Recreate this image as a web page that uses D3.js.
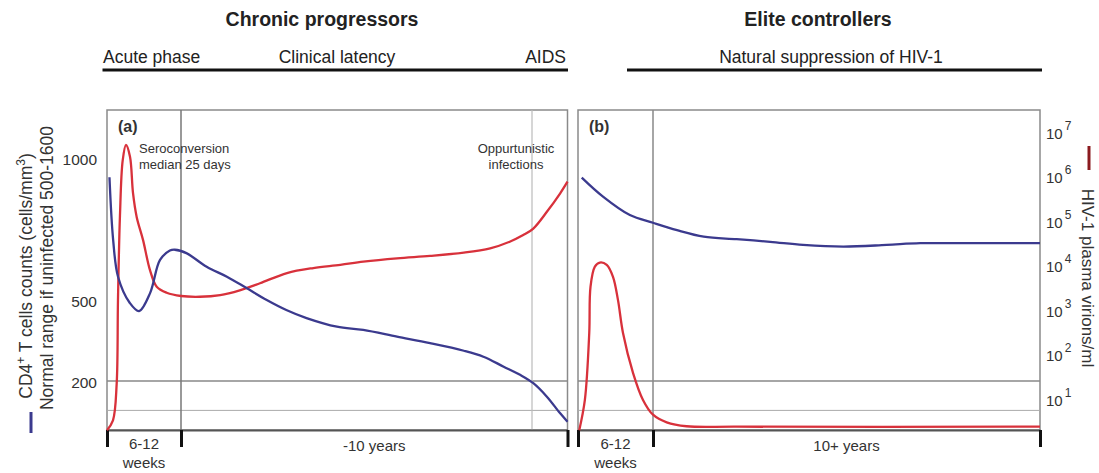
<!DOCTYPE html>
<html>
<head>
<meta charset="utf-8">
<script src="https://cdn.jsdelivr.net/npm/d3@7"></script>
<style>
  body { margin: 0; background: #fff; }
  svg { font-family: "Liberation Sans", Arial, sans-serif; }
</style>
</head>
<body>
<div id="chart"></div>
<script>
// time is in weeks after infection; the axis is schematic (piecewise)
const phaseWeeksA = [0, 12, 532, 600];
const phaseWeeksB = [0, 12, 600];

// (a) chronic progressors
const cd4WeeksA = [0.4, 1.0, 1.8, 3.7, 5.2, 7.0, 8.6, 10.2, 11.0, 20, 50, 80, 109, 139, 168, 198, 243, 282, 332, 381, 431, 460, 490, 515, 534.5, 560.5, 586, 600];
const cd4A = [932, 711, 581, 489, 459, 525, 641, 674, 677, 665, 617, 582, 542, 500, 463, 433, 401, 389, 364, 340, 312, 290, 253, 222, 191, 136, 68, 34];
const virWeeksA = [0, 0.97, 1.57, 1.78, 2.1, 2.55, 3.08, 3.73, 4.22, 4.82, 5.84, 6.97, 8.06, 9.68, 12.1, 40, 70, 99, 129, 169, 208, 248, 282, 332, 381, 431, 470, 499, 519, 534.5, 560.5, 586, 600];
const virA = [1.8, 3, 20, 1500, 117000, 2.1e6, 4.6e6, 2.5e6, 3.8e5, 1.1e5, 3.4e4, 7100, 3000, 2200, 1860, 1790, 1950, 2500, 3600, 6100, 7900, 9300, 11000, 13100, 14800, 17500, 21900, 30900, 43500, 61000, 145000, 378000, 690000];

// (b) elite controllers
const cd4WeeksB = [0.6, 4.0, 8.3, 12, 48.5, 89, 139, 190, 240, 301, 367, 418, 494, 600];
const cd4B = [931, 864, 799, 772, 746, 723, 714, 705, 694, 688, 694, 700, 700, 700];
const virWeeksB = [0.2, 1.1, 1.8, 2.0, 2.7, 3.5, 4.6, 5.6, 6.4, 7.2, 8.8, 10.4, 12, 32.8, 63, 139, 600];
const virB = [1.8, 8.6, 275, 3000, 8500, 10500, 9300, 5000, 1500, 275, 35, 8.6, 4, 2.7, 2.2, 2.15, 2.15];

const cd4Ticks = [200, 500, 1000];
const virTicks = [1e1, 1e2, 1e3, 1e4, 1e5, 1e6, 1e7];
const refCd4Lines = [200, 80];

const BLUE = '#3b3a8e';
const RED = '#d8313b';
const FRAME = '#8a8a8a';

const width = 1099, height = 473;
const svg = d3.select('#chart').append('svg')
  .attr('width', width).attr('height', height);

const TOP = 110, BOTTOM = 430;

const yCd4 = d3.scaleLinear().domain([0, 200, 500, 1000]).range([BOTTOM, 381, 300, 158]);
const yVir = d3.scaleLog().domain([10, 1e7]).range([397, 130]);
const xA = d3.scaleLinear().domain(phaseWeeksA).range([107, 181, 532, 567.5]);
const xB = d3.scaleLinear().domain(phaseWeeksB).range([578, 653, 1040]);

const panels = [
  {x: xA, label: '(a)', cd4W: cd4WeeksA, cd4: cd4A, virW: virWeeksA, vir: virA,
   vlines: [[12, '#777', 1.5], [532, '#bbb', 1.2]], ticks: [0, 12, 600]},
  {x: xB, label: '(b)', cd4W: cd4WeeksB, cd4: cd4B, virW: virWeeksB, vir: virB,
   vlines: [[12, '#888', 1.5]], ticks: [0, 12, 600]}
];

const smooth = d3.curveCatmullRom.alpha(0.5);

panels.forEach(p => {
  const [x0, x1] = [p.x.range()[0], p.x.range()[p.x.range().length - 1]];
  const g = svg.append('g');

  // frame
  g.append('rect')
    .attr('x', x0).attr('y', TOP)
    .attr('width', x1 - x0).attr('height', BOTTOM - TOP)
    .attr('fill', 'none').attr('stroke', FRAME).attr('stroke-width', 1.5);

  // reference lines
  refCd4Lines.forEach((v, i) => {
    g.append('line')
      .attr('x1', x0).attr('x2', x1)
      .attr('y1', yCd4(v)).attr('y2', yCd4(v))
      .attr('stroke', i === 0 ? '#888' : '#aaa')
      .attr('stroke-width', i === 0 ? 1.5 : 1);
  });
  p.vlines.forEach(([w, c, sw]) => {
    g.append('line')
      .attr('x1', p.x(w)).attr('x2', p.x(w))
      .attr('y1', TOP).attr('y2', BOTTOM)
      .attr('stroke', c).attr('stroke-width', sw);
  });

  // bottom axis with heavy tick marks
  const ax = g.append('g')
    .attr('transform', `translate(0,${BOTTOM})`)
    .call(d3.axisBottom(p.x).tickValues(p.ticks).tickSize(17).tickSizeOuter(0).tickFormat(''));
  ax.select('.domain').attr('stroke', '#555').attr('stroke-width', 2);
  ax.selectAll('.tick line').attr('stroke', '#111').attr('stroke-width', 3);

  // curves
  const lineCd4 = d3.line()
    .x(d => p.x(d[0])).y(d => yCd4(d[1]))
    .curve(smooth);
  const lineVir = d3.line()
    .x(d => p.x(d[0])).y(d => yVir(d[1]))
    .curve(smooth);

  g.append('path')
    .datum(d3.zip(p.virW, p.vir))
    .attr('d', lineVir)
    .attr('fill', 'none').attr('stroke', RED).attr('stroke-width', 2.3);
  g.append('path')
    .datum(d3.zip(p.cd4W, p.cd4))
    .attr('d', lineCd4)
    .attr('fill', 'none').attr('stroke', BLUE).attr('stroke-width', 2.3);

  g.append('text')
    .attr('x', x0 + 11).attr('y', 132)
    .attr('font-size', 16).attr('font-weight', 'bold').attr('fill', '#333')
    .text(p.label);

  // bottom labels
  const mid1 = (p.x(0) + p.x(12)) / 2;
  const mid2 = (p.x(12) + p.x(600)) / 2;
  g.append('text').attr('x', mid1).attr('y', 449)
    .attr('text-anchor', 'middle').attr('font-size', 15).attr('fill', '#333').text('6-12');
  g.append('text').attr('x', mid1).attr('y', 468)
    .attr('text-anchor', 'middle').attr('font-size', 15).attr('fill', '#333').text('weeks');
  g.append('text').attr('x', mid2).attr('y', 451)
    .attr('text-anchor', 'middle').attr('font-size', 15).attr('fill', '#333')
    .text(p.label === '(a)' ? '-10 years' : '10+ years');
});

// annotations in (a)
const note = (x, y, s, anchor) => svg.append('text')
  .attr('x', x).attr('y', y).attr('font-size', 13).attr('fill', '#333')
  .attr('text-anchor', anchor).text(s);
note(139, 153, 'Seroconversion', 'start');
note(139, 169, 'median 25 days', 'start');
note(516, 153, 'Oppurtunistic', 'middle');
note(516, 169, 'infections', 'middle');

// left axis (CD4 count)
const la = svg.append('g').attr('transform', 'translate(97,0)')
  .call(d3.axisLeft(yCd4).tickValues(cd4Ticks).tickSize(0).tickPadding(0).tickFormat(d3.format('d')));
la.select('.domain').remove();
la.selectAll('text').attr('font-size', 15.5).attr('fill', '#333')
  .attr('font-family', '"Liberation Sans", Arial, sans-serif').attr('dy', '0.45em');

// right axis (viral load, log)
const ra = svg.append('g').attr('transform', 'translate(1046,0)')
  .call(d3.axisRight(yVir).tickValues(virTicks).tickSize(0).tickPadding(0).tickFormat(''));
ra.select('.domain').remove();
ra.selectAll('.tick text')
  .attr('font-size', 15).attr('fill', '#333').attr('text-anchor', 'start')
  .attr('font-family', '"Liberation Sans", Arial, sans-serif')
  .attr('dy', '0.55em')
  .each(function(d) {
    const t = d3.select(this);
    t.text('10');
    t.append('tspan').attr('dy', '-0.75em').attr('dx', 2).attr('font-size', 12)
      .text(Math.round(Math.log10(d)));
  });

// axis titles
const lt = svg.append('text')
  .attr('transform', 'translate(26,276) rotate(-90)')
  .attr('text-anchor', 'middle').attr('dy', '0.35em')
  .attr('font-size', 17.5).attr('fill', '#333');
lt.append('tspan').text('CD4');
lt.append('tspan').attr('dy', -7).attr('font-size', 12).text('+');
lt.append('tspan').attr('dy', 7).text(' T cells counts (cells/mm');
lt.append('tspan').attr('dy', -7).attr('font-size', 12).text('3');
lt.append('tspan').attr('dy', 7).text(')');

svg.append('text')
  .attr('transform', 'translate(47,268) rotate(-90)')
  .attr('text-anchor', 'middle').attr('dy', '0.35em')
  .attr('font-size', 17.5).attr('fill', '#333')
  .text('Normal range if uninfected 500-1600');

svg.append('line').attr('x1', 31).attr('x2', 31).attr('y1', 412).attr('y2', 433)
  .attr('stroke', BLUE).attr('stroke-width', 3);

svg.append('text')
  .attr('transform', 'translate(1088,278) rotate(90)')
  .attr('text-anchor', 'middle').attr('dy', '0.35em')
  .attr('font-size', 17).attr('fill', '#333')
  .text('HIV-1 plasma virions/ml');

svg.append('line').attr('x1', 1089).attr('x2', 1089).attr('y1', 146).attr('y2', 170)
  .attr('stroke', '#8b1a1f').attr('stroke-width', 3);

// headers
const header = (x, y, s, bold, anchor) => svg.append('text')
  .attr('x', x).attr('y', y).attr('text-anchor', anchor)
  .attr('font-size', bold ? 19.5 : 17.5).attr('font-weight', bold ? 'bold' : 'normal')
  .attr('fill', '#222').text(s);

header(322, 26, 'Chronic progressors', true, 'middle');
header(103, 63, 'Acute phase', false, 'start');
header(337, 63, 'Clinical latency', false, 'middle');
header(566, 63, 'AIDS', false, 'end');
header(818, 26, 'Elite controllers', true, 'middle');
header(831, 63, 'Natural suppression of HIV-1', false, 'middle');

[[102.5, 568], [627, 1042]].forEach(([a, b]) => {
  svg.append('line').attr('x1', a).attr('x2', b).attr('y1', 70).attr('y2', 70)
    .attr('stroke', '#111').attr('stroke-width', 2.8);
});
</script>
</body>
</html>
